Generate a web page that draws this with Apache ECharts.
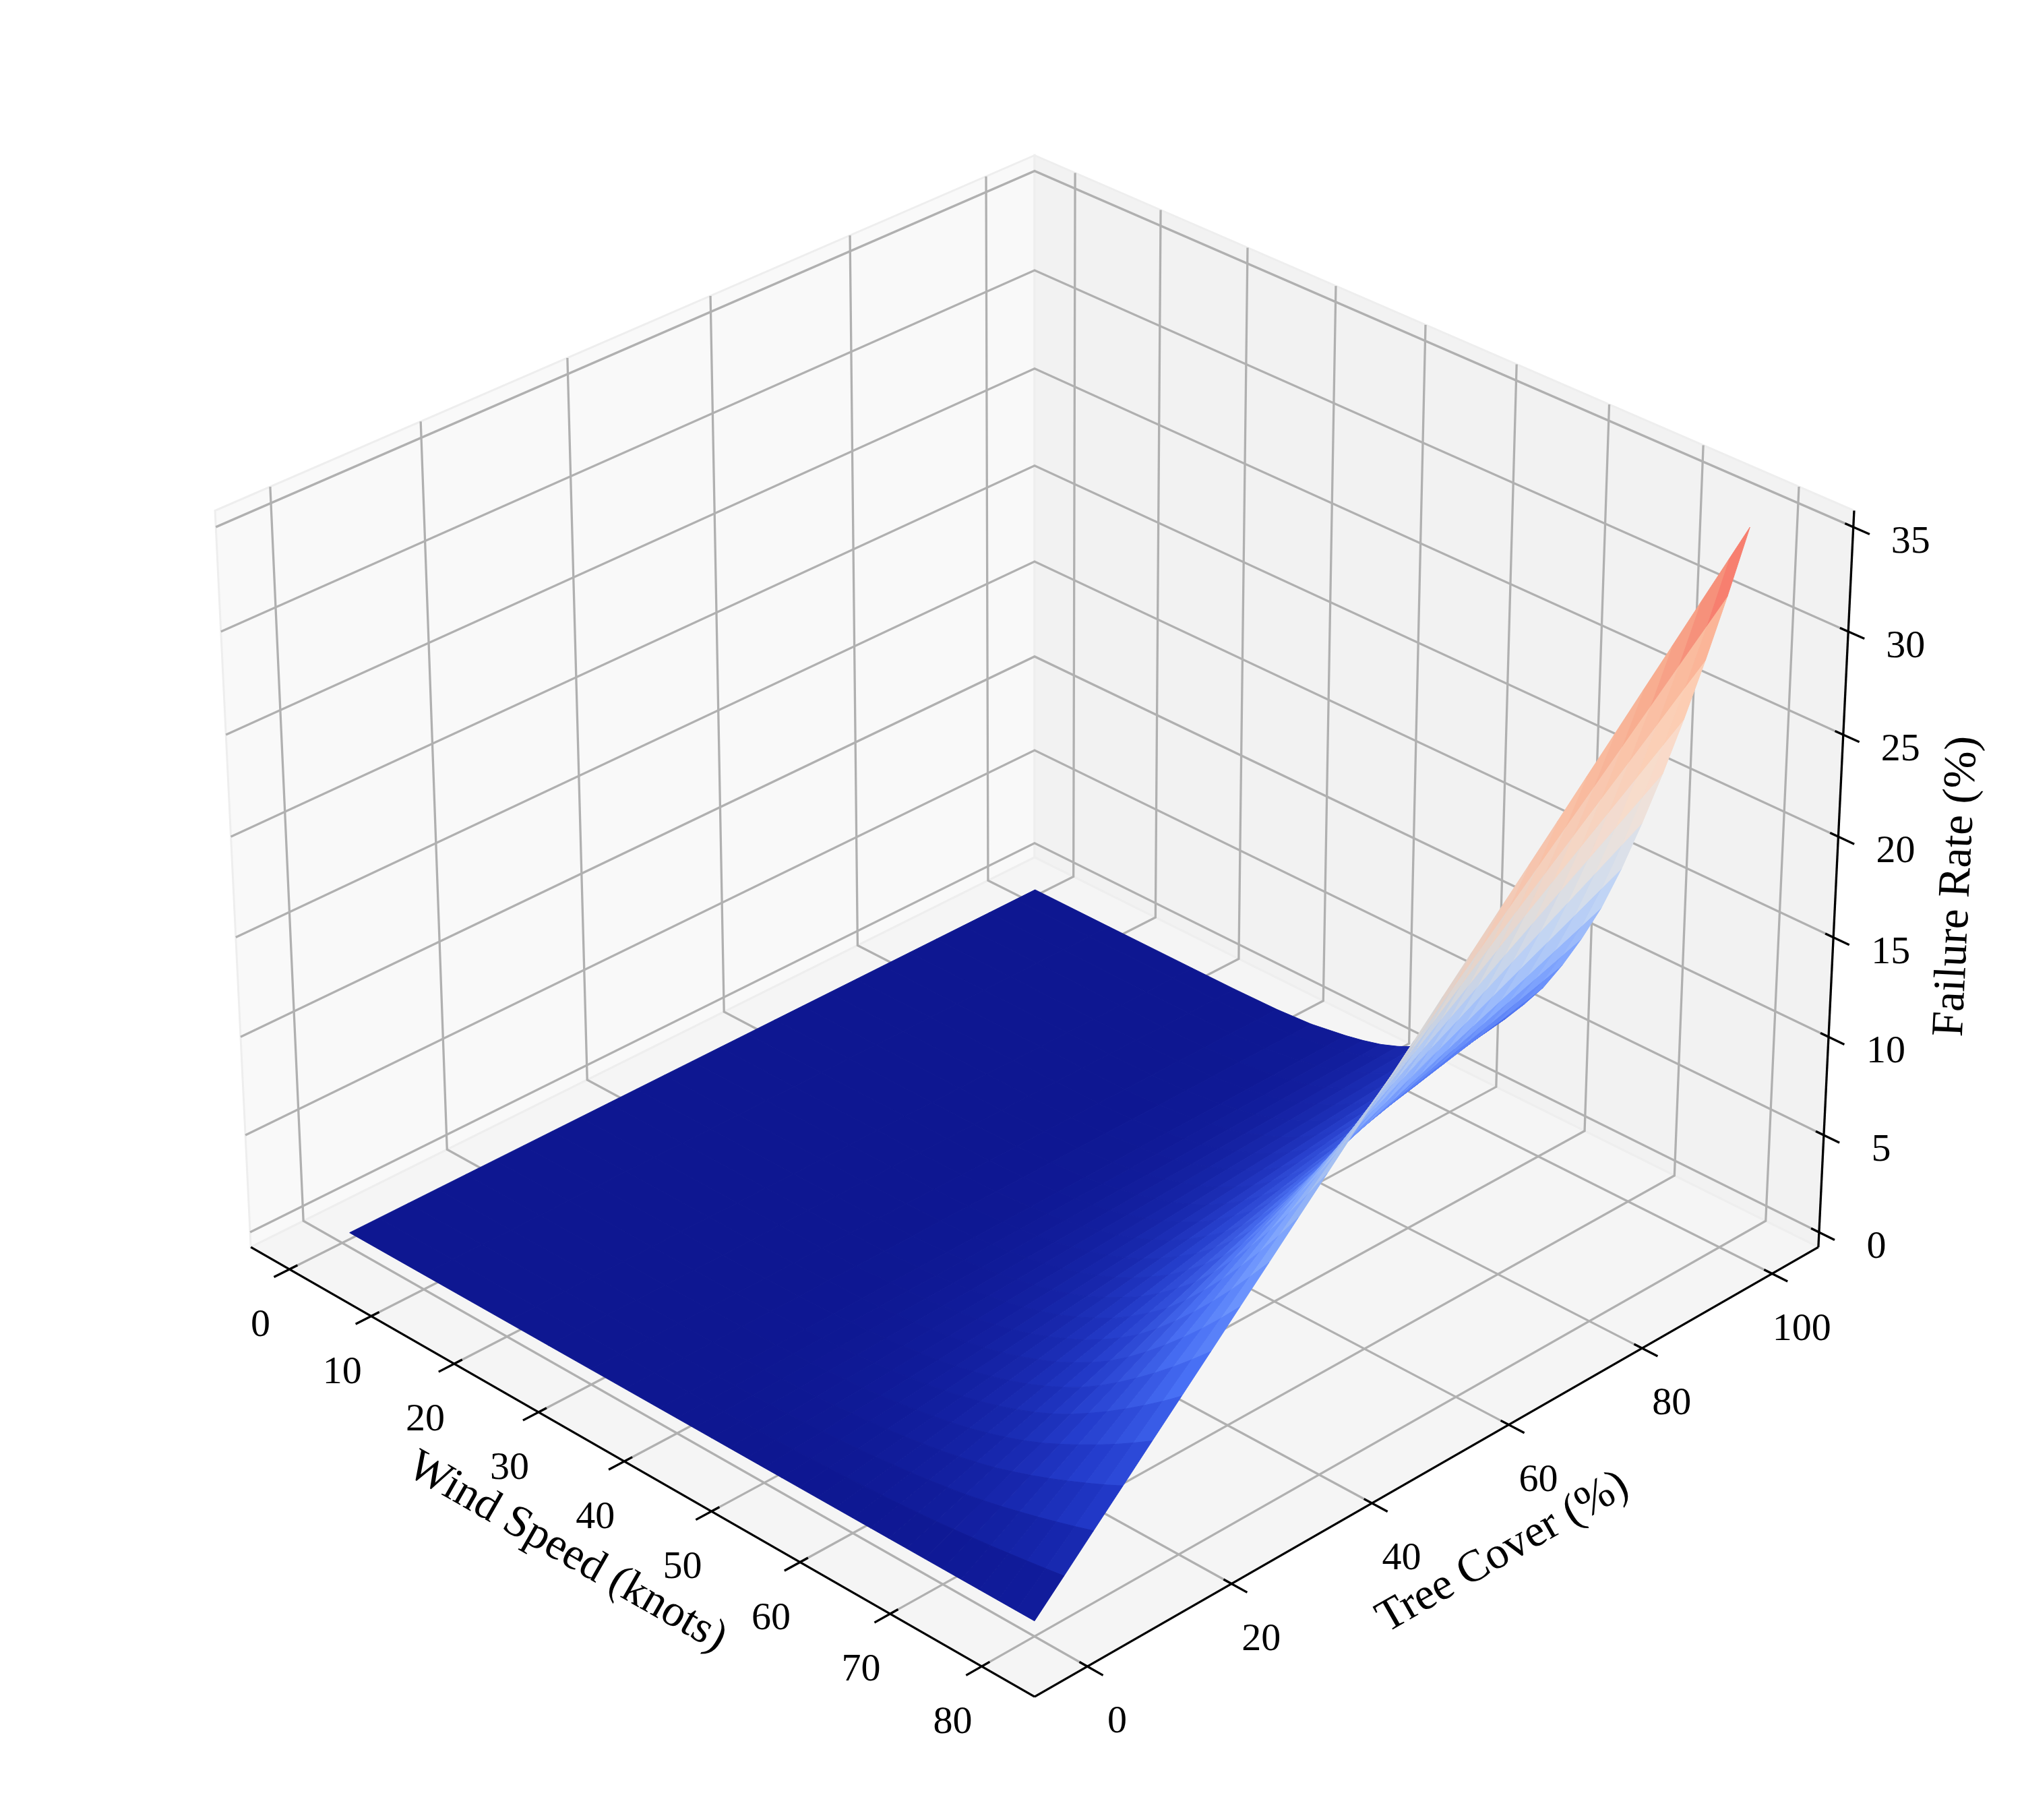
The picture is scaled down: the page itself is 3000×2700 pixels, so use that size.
<!DOCTYPE html>
<html>
<head>
<meta charset="utf-8">
<style>html,body{margin:0;padding:0;background:#fff}#chart{width:3000px;height:2700px}</style>
<script src="https://cdn.jsdelivr.net/npm/echarts@6/dist/echarts.min.js"></script>
</head>
<body>
<div id="chart"></div>
<script>
// ---- chart data ----
const windSpeeds = [1,10,20,25,30,34,38,40,42,44,46,48,50,52,54,56,58,60,62,64,66,68,70,72,74,76,78,80];
const treeCovers = [0,4.04,8.08,12.12,16.16,20.2,24.24,28.28,32.32,36.36,40.4,44.44,48.48,52.53,56.57,60.61,64.65,68.69,72.73,76.77,80.81,84.85,88.89,92.93,96.97,100];
const failureRate = [
[0,0,0,0,0,0,0,0,0,0,0,0,0,0,0,0,0,0,0,0,0,0,0,0,0,0],
[0,0,0,0,0,0,0,0,0,0,0,0,0,0,0,0,0,0,0,0,0,0,0,0,0,0],
[0,0,0,0,0,0,0,0,0,0,0,0,0,0.01,0.01,0.01,0.01,0.01,0.01,0.01,0.01,0.01,0.01,0.01,0.01,0.01],
[0,0,0,0,0,0,0,0.01,0.01,0.01,0.01,0.01,0.01,0.01,0.01,0.01,0.01,0.01,0.01,0.01,0.02,0.02,0.02,0.02,0.02,0.02],
[0,0,0.01,0.01,0.01,0.01,0.02,0.02,0.02,0.03,0.03,0.03,0.03,0.04,0.04,0.04,0.05,0.05,0.05,0.05,0.06,0.06,0.06,0.07,0.07,0.07],
[0,0.01,0.02,0.02,0.03,0.04,0.05,0.06,0.06,0.07,0.08,0.09,0.10,0.11,0.11,0.12,0.13,0.14,0.15,0.15,0.16,0.17,0.18,0.19,0.19,0.20],
[0,0.02,0.04,0.06,0.08,0.10,0.12,0.14,0.16,0.18,0.20,0.22,0.24,0.26,0.28,0.30,0.32,0.34,0.36,0.38,0.40,0.42,0.44,0.46,0.48,0.50],
[0,0.03,0.06,0.08,0.11,0.14,0.17,0.20,0.23,0.25,0.28,0.31,0.34,0.37,0.40,0.42,0.45,0.48,0.51,0.54,0.57,0.59,0.62,0.65,0.68,0.70],
[0,0.04,0.08,0.12,0.15,0.19,0.23,0.27,0.31,0.35,0.38,0.42,0.46,0.50,0.54,0.58,0.61,0.65,0.69,0.73,0.77,0.81,0.84,0.88,0.92,0.95],
[0,0.05,0.11,0.16,0.21,0.26,0.32,0.37,0.42,0.47,0.53,0.58,0.63,0.68,0.74,0.79,0.84,0.89,0.95,1.00,1.05,1.10,1.16,1.21,1.26,1.30],
[0,0.07,0.14,0.21,0.28,0.35,0.42,0.49,0.57,0.64,0.71,0.78,0.85,0.92,0.99,1.06,1.13,1.20,1.27,1.34,1.41,1.48,1.56,1.63,1.70,1.75],
[0,0.09,0.18,0.27,0.36,0.45,0.55,0.64,0.73,0.82,0.91,1.00,1.09,1.18,1.27,1.36,1.45,1.55,1.64,1.73,1.82,1.91,2.00,2.09,2.18,2.25],
[0,0.12,0.23,0.35,0.46,0.58,0.69,0.81,0.92,1.04,1.15,1.27,1.38,1.50,1.61,1.73,1.84,1.96,2.07,2.19,2.30,2.42,2.53,2.65,2.76,2.85],
[0,0.15,0.29,0.44,0.58,0.73,0.87,1.02,1.16,1.31,1.45,1.60,1.75,1.89,2.04,2.18,2.33,2.47,2.62,2.76,2.91,3.05,3.20,3.35,3.49,3.60],
[0,0.18,0.36,0.54,0.72,0.90,1.08,1.26,1.44,1.62,1.80,1.98,2.16,2.34,2.52,2.70,2.88,3.06,3.24,3.42,3.60,3.78,3.96,4.14,4.32,4.45],
[0,0.22,0.44,0.67,0.89,1.11,1.33,1.56,1.78,2.00,2.22,2.44,2.67,2.89,3.11,3.33,3.56,3.78,4.00,4.22,4.44,4.67,4.89,5.11,5.33,5.50],
[0,0.27,0.54,0.81,1.08,1.35,1.62,1.89,2.17,2.44,2.71,2.98,3.25,3.52,3.79,4.06,4.33,4.60,4.87,5.14,5.41,5.69,5.96,6.23,6.50,6.70],
[0,0.32,0.65,0.97,1.29,1.62,1.94,2.26,2.59,2.91,3.23,3.56,3.88,4.20,4.53,4.85,5.17,5.49,5.82,6.14,6.46,6.79,7.11,7.43,7.76,8.00],
[0,0.39,0.78,1.16,1.55,1.94,2.33,2.72,3.10,3.49,3.88,4.27,4.65,5.04,5.43,5.82,6.21,6.59,6.98,7.37,7.76,8.15,8.53,8.92,9.31,9.60],
[0,0.46,0.92,1.38,1.84,2.30,2.76,3.22,3.68,4.15,4.61,5.07,5.53,5.99,6.45,6.91,7.37,7.83,8.29,8.75,9.21,9.67,10.13,10.59,11.05,11.40],
[0,0.54,1.08,1.62,2.17,2.71,3.25,3.79,4.33,4.87,5.41,5.96,6.50,7.04,7.58,8.12,8.66,9.20,9.75,10.29,10.83,11.37,11.91,12.45,12.99,13.40],
[0,0.64,1.28,1.92,2.55,3.19,3.83,4.47,5.11,5.75,6.38,7.02,7.66,8.30,8.94,9.58,10.21,10.85,11.49,12.13,12.77,13.41,14.04,14.68,15.32,15.80],
[0,0.75,1.49,2.24,2.99,3.74,4.48,5.23,5.98,6.73,7.47,8.22,8.97,9.72,10.46,11.21,11.96,12.71,13.45,14.20,14.95,15.70,16.44,17.19,17.94,18.50],
[0,0.86,1.73,2.59,3.46,4.32,5.19,6.05,6.92,7.78,8.65,9.51,10.38,11.24,12.10,12.97,13.83,14.70,15.56,16.43,17.29,18.16,19.02,19.89,20.75,21.40],
[0,0.99,1.98,2.97,3.96,4.95,5.94,6.93,7.92,8.91,9.90,10.89,11.88,12.87,13.86,14.85,15.84,16.83,17.82,18.81,19.80,20.79,21.78,22.77,23.76,24.50],
[0,1.12,2.25,3.37,4.49,5.62,6.74,7.86,8.99,10.11,11.23,12.36,13.48,14.60,15.72,16.85,17.97,19.09,20.22,21.34,22.46,23.59,24.71,25.83,26.96,27.80],
[0,1.26,2.53,3.79,5.06,6.32,7.59,8.85,10.12,11.38,12.65,13.91,15.18,16.44,17.70,18.97,20.23,21.50,22.76,24.03,25.29,26.56,27.82,29.09,30.35,31.30],
[0,1.41,2.83,4.24,5.66,7.07,8.48,9.90,11.31,12.73,14.14,15.56,16.97,18.38,19.80,21.21,22.63,24.04,25.45,26.87,28.28,29.70,31.11,32.53,33.94,35.00]
];
const windTicks = [0,10,20,30,40,50,60,70,80];
const treeTicks = [0,20,40,60,80,100];
const failTicks = [0,5,10,15,20,25,30,35];
const windTitle = 'Wind Speed (knots)';
const treeTitle = 'Tree Cover (%)';
const failTitle = 'Failure Rate (%)';

// ---- axis limits of the 3D box ----
const windLim = [-4.79, 85.7];
const treeLim = [-7.2, 107.25];
const failLim = [-0.77, 35.78];
const failMax = 35;

// ---- view: elevation 30, azimuth -45, box aspect 4:4:3, focal length 1, distance 10 ----
const BOX = [1.1905, 1.1905, 0.8929];
const DIST = 10, EL = 30 * Math.PI / 180, AZ = -45 * Math.PI / 180;
const W = [Math.cos(EL) * Math.cos(AZ), Math.cos(EL) * Math.sin(AZ), Math.sin(EL)];
const U = [Math.SQRT1_2, Math.SQRT1_2, 0];
const V = [W[1] * U[2] - W[2] * U[1], W[2] * U[0] - W[0] * U[2], W[0] * U[1] - W[1] * U[0]];
function dot(a, b) { return a[0] * b[0] + a[1] * b[1] + a[2] * b[2]; }
function viewBox(u, v, w) {
  const q = [(u - 0.5) * BOX[0] - DIST * W[0], (v - 0.5) * BOX[1] - DIST * W[1], (w - 0.5) * BOX[2] - DIST * W[2]];
  const d = dot(W, q);
  return { x: dot(U, q) / -d, y: dot(V, q) / -d, depth: d };
}
const frac = (lim, a) => (a - lim[0]) / (lim[1] - lim[0]);
function P(u, v, w) { const p = viewBox(u, v, w); return [p.x, p.y]; }
const uW = a => frac(windLim, a), vT = a => frac(treeLim, a), wF = a => frac(failLim, a);

// ---- colour ----
const coolwarm = ['#3b4cc0','#5977e3','#7b9ff9','#9ebeff','#c0d4f5','#dddcdc','#f2cbb7','#f7ac8e','#ee8468','#d44e41','#b40426']
  .map(h => [parseInt(h.slice(1,3),16)/255, parseInt(h.slice(3,5),16)/255, parseInt(h.slice(5,7),16)/255]);
function cmap(t) {
  t = Math.max(0, Math.min(1, t)) * 10;
  const k = Math.min(9, Math.floor(t)), f = t - k;
  return [0,1,2].map(c => coolwarm[k][c] * (1 - f) + coolwarm[k + 1][c] * f);
}
function soft(rgb, i) { return rgb.map(c => 2 * i * c + (1 - 2 * i) * c * c); }
function css(rgb) { return 'rgb(' + rgb.map(c => Math.round(Math.max(0, Math.min(1, c)) * 255)).join(',') + ')'; }

// ---- surface faces, far first ----
const faces = [];
let maxSlope = 0;
for (let i = 0; i < windSpeeds.length - 1; i++) for (let j = 0; j < treeCovers.length - 1; j++) {
  const dw = windSpeeds[i + 1] - windSpeeds[i];
  maxSlope = Math.max(maxSlope, (failureRate[i + 1][j] - failureRate[i][j] + failureRate[i + 1][j + 1] - failureRate[i][j + 1]) / 2 / dw);
}
for (let i = 0; i < windSpeeds.length - 1; i++) for (let j = 0; j < treeCovers.length - 1; j++) {
  const cn = [[i, j], [i + 1, j], [i + 1, j + 1], [i, j + 1]];
  const pts = cn.map(c => [uW(windSpeeds[c[0]]), vT(treeCovers[c[1]]), wF(failureRate[c[0]][c[1]])]);
  const avg = cn.reduce((s, c) => s + failureRate[c[0]][c[1]], 0) / 4;
  const dw = windSpeeds[i + 1] - windSpeeds[i];
  const slope = (failureRate[i + 1][j] - failureRate[i][j] + failureRate[i + 1][j + 1] - failureRate[i][j + 1]) / 2 / dw;
  const depth = pts.reduce((s, p) => s + viewBox(p[0], p[1], p[2]).depth, 0) / 4;
  const light = Math.pow(Math.min(1, Math.max(0, slope / maxSlope)), 1.6);
  faces.push({ poly: pts.map(p => P(p[0], p[1], p[2])), color: css(soft(cmap(0.97 * avg / failMax), light)), depth });
}
faces.sort((a, b) => a.depth - b.depth);

// ---- box furniture ----
const panes = [
  { poly: [P(0,0,0), P(0,1,0), P(0,1,1), P(0,0,1)], fill: 'rgb(249,249,249)' },
  { poly: [P(0,1,0), P(1,1,0), P(1,1,1), P(0,1,1)], fill: 'rgb(242,242,242)' },
  { poly: [P(0,0,0), P(1,0,0), P(1,1,0), P(0,1,0)], fill: 'rgb(245,245,245)' }
];
const gridLines = [];
windTicks.forEach(t => { const u = uW(t); gridLines.push([P(u,0,0), P(u,1,0), P(u,1,1)]); });
treeTicks.forEach(t => { const v = vT(t); gridLines.push([P(1,v,0), P(0,v,0), P(0,v,1)]); });
failTicks.forEach(t => { const w = wF(t); gridLines.push([P(0,0,w), P(0,1,w), P(1,1,w)]); });
const TICK_OUT = 0.0185, TICK_IN = 0.0095;
const axisLines = [[P(0,0,0), P(1,0,0)], [P(1,0,0), P(1,1,0)], [P(1,1,0), P(1,1,1)]];
const tickLines = [];
windTicks.forEach(t => { const u = uW(t); tickLines.push([P(u,-TICK_OUT,0), P(u,TICK_IN,0)]); });
treeTicks.forEach(t => { const v = vT(t); tickLines.push([P(1+TICK_OUT,v,0), P(1-TICK_IN,v,0)]); });
failTicks.forEach(t => { const w = wF(t); tickLines.push([P(1+TICK_OUT,1,w), P(1-TICK_IN,1,w)]); });
const FONT = '"Liberation Serif","Times New Roman",serif';
const texts = [];
windTicks.forEach(t => texts.push({ at: P(uW(t),0,0), dx: -43, dy: 84, text: String(t), size: 58, rot: 0 }));
treeTicks.forEach(t => texts.push({ at: P(1,vT(t),0), dx: 44, dy: 83, text: String(t), size: 58, rot: 0 }));
failTicks.forEach(t => texts.push({ at: P(1,1,wF(t)), dx: 85, dy: 23, text: String(t), size: 58, rot: 0 }));
texts.push({ at: P(0.5,0,0), dx: -91, dy: 132, text: windTitle, size: 67, rot: -29.8 });
texts.push({ at: P(1,0.5,0), dx: 92, dy: 132, text: treeTitle, size: 67, rot: 29.8 });
texts.push({ at: P(1,1,0.5), dx: 180, dy: -1, text: failTitle, size: 67, rot: 87.3 });

// ---- one custom series per layer, all mapped through the cartesian axes ----
function polySeries(name, items, z, styleOf) {
  return {
    name, type: 'custom', coordinateSystem: 'cartesian2d', silent: true, z, animation: false, clip: false,
    data: items.map((it, k) => [it.poly[0][0], it.poly[0][1], k]),
    renderItem(params, api) {
      const it = items[api.value(2)];
      return { type: 'polygon', shape: { points: it.poly.map(p => api.coord(p)) }, style: styleOf(it), silent: true };
    }
  };
}
function lineSeries(name, items, z, stroke, width) {
  return {
    name, type: 'custom', coordinateSystem: 'cartesian2d', silent: true, z, animation: false, clip: false,
    data: items.map((it, k) => [it[0][0], it[0][1], k]),
    renderItem(params, api) {
      return { type: 'polyline', shape: { points: items[api.value(2)].map(p => api.coord(p)) },
        style: { stroke, lineWidth: width, fill: null, lineJoin: 'miter' }, silent: true };
    }
  };
}
const textSeries = {
  name: 'labels', type: 'custom', coordinateSystem: 'cartesian2d', silent: true, z: 8, animation: false, clip: false,
  data: texts.map((t, k) => [t.at[0], t.at[1], k]),
  renderItem(params, api) {
    const t = texts[api.value(2)], c = api.coord(t.at);
    return { type: 'text', x: c[0] + t.dx, y: c[1] + t.dy, rotation: t.rot * Math.PI / 180, silent: true,
      style: { text: t.text, x: 0, y: 0, align: 'center', verticalAlign: 'middle', fontFamily: FONT, fontSize: t.size, fill: '#000' } };
  }
};

const S = 14122, CX = 1535, CY = 1316;
const chart = echarts.init(document.getElementById('chart'), null, { renderer: 'canvas', width: 3000, height: 2700 });
chart.setOption({
  backgroundColor: '#ffffff',
  animation: false,
  tooltip: { show: false },
  grid: { left: 0, top: 0, width: 3000, height: 2700, containLabel: false },
  xAxis: { type: 'value', min: -CX / S, max: (3000 - CX) / S, show: false, scale: true },
  yAxis: { type: 'value', min: (CY - 2700) / S, max: CY / S, show: false, scale: true },
  series: [
    polySeries('panes', panes, 1, it => ({ fill: it.fill, stroke: 'rgb(238,238,238)', lineWidth: 3 })),
    lineSeries('grid', gridLines, 2, '#b0b0b0', 3.3),
    polySeries('surface', faces, 3, it => ({ fill: it.color, stroke: it.color, lineWidth: 1 })),
    lineSeries('ticks', tickLines, 4, '#000', 3.3),
    lineSeries('axes', axisLines, 5, '#000', 3.3),
    textSeries
  ]
});
</script>
</body>
</html>
